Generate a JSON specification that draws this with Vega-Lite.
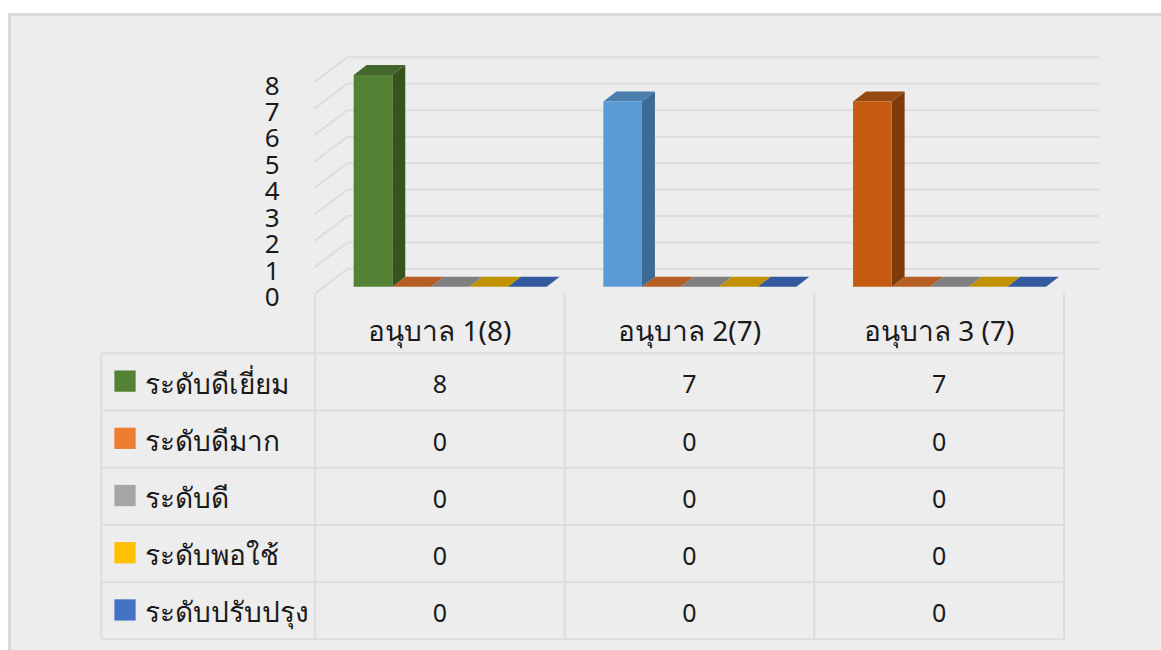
{
"$schema":"https://vega.github.io/schema/vega-lite/v6.json",
"width":1153,"height":637,
"autosize":{"type":"none"},
"padding":{"left":8,"top":13,"right":0,"bottom":0},
"background":"#FFFFFF",
"view":{"fill":"#EDEDED","stroke":null},
"config":{"font":"Noto Sans"},
"datasets":{
"rows":[
{"group":"อนุบาล 1(8)","series":"ระดับดีเยี่ยม","value":8},
{"group":"อนุบาล 1(8)","series":"ระดับดีมาก","value":0},
{"group":"อนุบาล 1(8)","series":"ระดับดี","value":0},
{"group":"อนุบาล 1(8)","series":"ระดับพอใช้","value":0},
{"group":"อนุบาล 1(8)","series":"ระดับปรับปรุง","value":0},
{"group":"อนุบาล 2(7)","series":"ระดับดีเยี่ยม","value":7},
{"group":"อนุบาล 2(7)","series":"ระดับดีมาก","value":0},
{"group":"อนุบาล 2(7)","series":"ระดับดี","value":0},
{"group":"อนุบาล 2(7)","series":"ระดับพอใช้","value":0},
{"group":"อนุบาล 2(7)","series":"ระดับปรับปรุง","value":0},
{"group":"อนุบาล 3 (7)","series":"ระดับดีเยี่ยม","value":7},
{"group":"อนุบาล 3 (7)","series":"ระดับดีมาก","value":0},
{"group":"อนุบาล 3 (7)","series":"ระดับดี","value":0},
{"group":"อนุบาล 3 (7)","series":"ระดับพอใช้","value":0},
{"group":"อนุบาล 3 (7)","series":"ระดับปรับปรุง","value":0}
],
"levels":[{"level":0},{"level":1},{"level":2},{"level":3},{"level":4},{"level":5},{"level":6},{"level":7},{"level":8}],
"rowLines":[{"line":0},{"line":1},{"line":2},{"line":3},{"line":4},{"line":5}],
"colLines":[{"col":0},{"col":1},{"col":2},{"col":3}]
},
"layer":[
{"data":{"name":"levels"},
 "transform":[{"calculate":"datum.level+0.669","as":"yb"},{"calculate":"0.1294","as":"xa"},{"calculate":"3.14","as":"xb"}],
 "mark":{"type":"rule","color":"#DDDDDD","strokeWidth":2},
 "encoding":{
  "x":{"field":"xa","type":"quantitative","axis":null,"scale":{"domain":[-1.2296,3.3885],"nice":false,"zero":false}},
  "x2":{"field":"xb"},
  "y":{"field":"yb","type":"quantitative","scale":{"domain":[-13.73,10.344],"nice":false,"zero":false},
   "axis":{"title":null,"values":[0,1,2,3,4,5,6,7,8],"format":"d","grid":false,"domain":false,"ticks":false,"labelPadding":0,"offset":-271,"labelOffset":11,"labelFontSize":26,"labelColor":"#1A1A1A","labelFont":"Noto Sans"}}
 }},
{"data":{"name":"levels"},
 "transform":[{"calculate":"datum.level+0.669","as":"yb"},{"calculate":"datum.level-0.27","as":"yf"},{"calculate":"-0.002","as":"xf"},{"calculate":"0.1294","as":"xa"}],
 "mark":{"type":"rule","color":"#DDDDDD","strokeWidth":2},
 "encoding":{"x":{"field":"xf","type":"quantitative"},"x2":{"field":"xa"},"y":{"field":"yf","type":"quantitative"},"y2":{"field":"yb"}}},
{"data":{"name":"rowLines"},
 "transform":[{"calculate":"-2.517-2.162*datum.line","as":"yl"},{"calculate":"-0.856","as":"xa"},{"calculate":"3","as":"xb"}],
 "mark":{"type":"rule","color":"#DDDDDD","strokeWidth":2},
 "encoding":{"x":{"field":"xa","type":"quantitative"},"x2":{"field":"xb"},"y":{"field":"yl","type":"quantitative"}}},
{"data":{"name":"colLines"},
 "transform":[{"calculate":"-0.25","as":"ya"},{"calculate":"-13.326","as":"yb"}],
 "mark":{"type":"rule","color":"#DDDDDD","strokeWidth":2},
 "encoding":{"x":{"field":"col","type":"quantitative"},"y":{"field":"ya","type":"quantitative"},"y2":{"field":"yb"}}},
{"data":{"name":"colLines"},
 "transform":[{"filter":"datum.col==0"},{"calculate":"-0.856","as":"xl"},{"calculate":"-2.517","as":"ya"},{"calculate":"-13.326","as":"yb"}],
 "mark":{"type":"rule","color":"#DDDDDD","strokeWidth":2},
 "encoding":{"x":{"field":"xl","type":"quantitative"},"y":{"field":"ya","type":"quantitative"},"y2":{"field":"yb"}}},
{"data":{"name":"colLines"},
 "transform":[{"filter":"datum.col==0"},{"calculate":"-1.2236","as":"xl"}],
 "mark":{"type":"rule","color":"#D9D9D9","strokeWidth":3},
 "encoding":{"x":{"field":"xl","type":"quantitative"}}},
{"data":{"name":"colLines"},
 "transform":[{"filter":"datum.col==0"},{"calculate":"10.287","as":"yl"}],
 "mark":{"type":"rule","color":"#D9D9D9","strokeWidth":3},
 "encoding":{"y":{"field":"yl","type":"quantitative"}}},
{"data":{"name":"rows"},
 "transform":[
  {"calculate":"indexof(['อนุบาล 1(8)','อนุบาล 2(7)','อนุบาล 3 (7)'],datum.group)","as":"gi"},
  {"calculate":"indexof(['ระดับดีเยี่ยม','ระดับดีมาก','ระดับดี','ระดับพอใช้','ระดับปรับปรุง'],datum.series)","as":"si"},
  {"calculate":"datum.gi+0.155+datum.si*0.1546","as":"x0"},
  {"calculate":"datum.x0+0.1546","as":"x1"},
  {"calculate":"datum.group+datum.series","as":"id"},
  {"calculate":"(datum.value>0?datum.group:datum.series)+'|top'","as":"ck"},
  {"calculate":"[0,1,2,3]","as":"k"},
  {"flatten":["k"]},
  {"calculate":"datum.k==0?datum.x0:datum.k==1?datum.x0+0.052:datum.k==2?datum.x1:datum.x1+0.052","as":"xp"},
  {"calculate":"datum.k==0?datum.value:datum.value+0.378","as":"yt"},
  {"calculate":"datum.k==3?datum.value+0.378:datum.value","as":"yb"}
 ],
 "mark":{"type":"area","orient":"vertical","interpolate":"linear"},
 "encoding":{"x":{"field":"xp","type":"quantitative"},"y":{"field":"yt","type":"quantitative"},"y2":{"field":"yb"},"detail":{"field":"id"},
  "color":{"field":"ck","type":"nominal","legend":null,"scale":{
   "domain":["อนุบาล 1(8)|top","อนุบาล 2(7)|top","อนุบาล 3 (7)|top","ระดับดีมาก|top","ระดับดี|top","ระดับพอใช้|top","ระดับปรับปรุง|top","อนุบาล 1(8)|side","อนุบาล 2(7)|side","อนุบาล 3 (7)|side","อนุบาล 1(8)|front","อนุบาล 2(7)|front","อนุบาล 3 (7)|front","ระดับดีเยี่ยม|swatch","ระดับดีมาก|swatch","ระดับดี|swatch","ระดับพอใช้|swatch","ระดับปรับปรุง|swatch"],
   "range":["#42662B","#4A7FB0","#964A12","#B55F25","#808080","#C09200","#335A9C","#37541F","#3D6A93","#7F3A0A","#548235","#5B9BD5","#C55A11","#548235","#ED7D31","#A5A5A5","#FFC000","#4472C4"]}}}},
{"data":{"name":"rows"},
 "transform":[
  {"filter":"datum.value>0"},
  {"calculate":"indexof(['อนุบาล 1(8)','อนุบาล 2(7)','อนุบาล 3 (7)'],datum.group)","as":"gi"},
  {"calculate":"datum.gi+0.155+0.1546","as":"x1"},
  {"calculate":"datum.group+'|side'","as":"ck"},
  {"calculate":"[0,1]","as":"k"},
  {"flatten":["k"]},
  {"calculate":"datum.x1+datum.k*0.052","as":"xp"},
  {"calculate":"datum.value+datum.k*0.378","as":"yt"},
  {"calculate":"datum.k*0.378","as":"yb"}
 ],
 "mark":{"type":"area","orient":"vertical","interpolate":"linear"},
 "encoding":{"x":{"field":"xp","type":"quantitative"},"y":{"field":"yt","type":"quantitative"},"y2":{"field":"yb"},"detail":{"field":"group"},
  "color":{"field":"ck","type":"nominal","legend":null}}},
{"data":{"name":"rows"},
 "transform":[
  {"filter":"datum.value>0"},
  {"calculate":"indexof(['อนุบาล 1(8)','อนุบาล 2(7)','อนุบาล 3 (7)'],datum.group)","as":"gi"},
  {"calculate":"datum.gi+0.155","as":"x0"},
  {"calculate":"datum.x0+0.1546","as":"x1"},
  {"calculate":"0","as":"base"},
  {"calculate":"datum.group+'|front'","as":"ck"}
 ],
 "mark":{"type":"rect"},
 "encoding":{"x":{"field":"x0","type":"quantitative"},"x2":{"field":"x1"},"y":{"field":"value","type":"quantitative"},"y2":{"field":"base"},
  "color":{"field":"ck","type":"nominal","legend":null}}},
{"data":{"name":"rows"},
 "transform":[
  {"filter":"datum.group=='อนุบาล 1(8)'"},
  {"calculate":"indexof(['ระดับดีเยี่ยม','ระดับดีมาก','ระดับดี','ระดับพอใช้','ระดับปรับปรุง'],datum.series)","as":"si"},
  {"calculate":"-0.7609","as":"xs"},
  {"calculate":"-3.568-2.162*datum.si","as":"ys"},
  {"calculate":"datum.series+'|swatch'","as":"ck"}
 ],
 "mark":{"type":"square","filled":true,"size":452,"opacity":1},
 "encoding":{"x":{"field":"xs","type":"quantitative"},"y":{"field":"ys","type":"quantitative"},"color":{"field":"ck","type":"nominal","legend":null}}},
{"data":{"name":"rows"},
 "transform":[
  {"filter":"datum.group=='อนุบาล 1(8)'"},
  {"calculate":"indexof(['ระดับดีเยี่ยม','ระดับดีมาก','ระดับดี','ระดับพอใช้','ระดับปรับปรุง'],datum.series)","as":"si"},
  {"calculate":"-0.681","as":"xs"},
  {"calculate":"-3.74-2.162*datum.si","as":"ys"}
 ],
 "mark":{"type":"text","align":"left","baseline":"middle","fontSize":28,"fill":"#1A1A1A"},
 "encoding":{"x":{"field":"xs","type":"quantitative"},"y":{"field":"ys","type":"quantitative"},"text":{"field":"series"}}},
{"data":{"name":"rows"},
 "transform":[
  {"calculate":"indexof(['ระดับดีเยี่ยม','ระดับดีมาก','ระดับดี','ระดับพอใช้','ระดับปรับปรุง'],datum.series)","as":"si"},
  {"filter":"datum.si==0"},
  {"calculate":"indexof(['อนุบาล 1(8)','อนุบาล 2(7)','อนุบาล 3 (7)'],datum.group)+0.5","as":"xs"},
  {"calculate":"-1.75","as":"ys"}
 ],
 "mark":{"type":"text","align":"center","baseline":"middle","fontSize":28,"fill":"#1A1A1A"},
 "encoding":{"x":{"field":"xs","type":"quantitative"},"y":{"field":"ys","type":"quantitative"},"text":{"field":"group"}}},
{"data":{"name":"rows"},
 "transform":[
  {"calculate":"indexof(['ระดับดีเยี่ยม','ระดับดีมาก','ระดับดี','ระดับพอใช้','ระดับปรับปรุง'],datum.series)","as":"si"},
  {"calculate":"indexof(['อนุบาล 1(8)','อนุบาล 2(7)','อนุบาล 3 (7)'],datum.group)+0.5","as":"xs"},
  {"calculate":"-3.598-2.162*datum.si-0.13","as":"ys"}
 ],
 "mark":{"type":"text","align":"center","baseline":"middle","fontSize":25,"fill":"#1A1A1A"},
 "encoding":{"x":{"field":"xs","type":"quantitative"},"y":{"field":"ys","type":"quantitative"},"text":{"field":"value","type":"quantitative"}}}
]
}
